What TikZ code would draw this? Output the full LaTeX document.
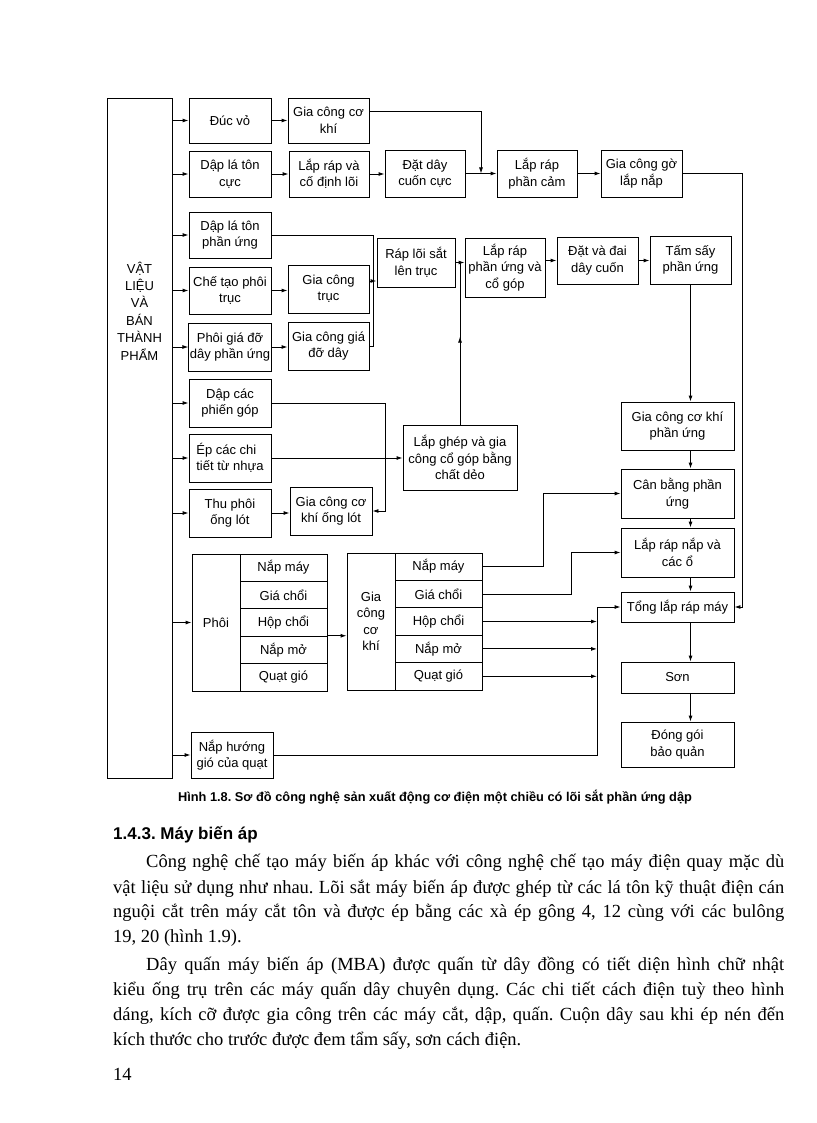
\documentclass[tikz,border=0pt]{standalone}
\usepackage{fontspec}
\setmainfont{Liberation Serif}
\setsansfont{Liberation Sans}
\usetikzlibrary{arrows.meta,calc}
\frenchspacing

\tikzset{
	procbox/.style={draw, line width=0.9pt, inner sep=1pt, align=center,
		font=\sffamily\fontsize{13}{16.5}\selectfont},
	ln/.style={line width=0.9pt},
	arr/.style={line width=0.9pt, -{Latex[length=6pt,width=4pt]}},
	bodyline/.style={anchor=base west, inner sep=0pt, font=\fontsize{18.5}{25}\selectfont},
}
% box from its corners: name, x1, y1, x2, y2, text
\newcommand{\procnode}[6]{
	\node [procbox, minimum width={(#4)-(#2)}, minimum height={(#5)-(#3)}]
	(#1) at ({((#2)+(#4))/2},{((#3)+(#5))/2}) {#6};
}

\begin{document}
\begin{tikzpicture}[x=1pt,y=-1pt]
\useasboundingbox (0,0) rectangle (816,1123);
\fill [white] (0,0) rectangle (816,1123);

\procnode{big}{107}{98}{172}{778}{}
\node [procbox, draw=none, font=\sffamily\fontsize{13}{17.4}\selectfont] (biglbl) at (139.5,311)
	{VẬT\\LIỆU\\VÀ\\BÁN\\THÀNH\\PHẨM};

% left column
\procnode{ducvo}{189}{98}{271}{143}{Đúc vỏ}
\procnode{dapcuc}{189}{151}{271}{197}{Dập lá tôn\\cực}
\procnode{dappu}{189}{212}{271}{258}{Dập lá tôn\\phần ứng}
\procnode{ctphoi}{189}{267}{271}{314}{Chế tạo phôi\\trục}
\procnode{phoigd}{189}{323}{271}{371}{Phôi giá đỡ\\dây phần ứng}
\procnode{dappg}{189}{379}{271}{427}{Dập các\\phiến góp}
\node [procbox, align=left, minimum width=82, minimum height=48] (epcac) at (230,458)
	{Ép các chi\\tiết từ nhựa};
\procnode{thuphoi}{189}{489}{271}{537}{Thu phôi\\ống lót}
\procnode{naphg}{191}{732}{273}{778}{Nắp hướng\\gió của quạt}

% second column
\procnode{gcck}{288}{98}{369}{143}{Gia công cơ\\khí}
\procnode{lrcd}{289}{151}{369}{197}{Lắp ráp và\\cố định lõi}
\procnode{gctruc}{288}{265}{369}{313}{Gia công\\trục}
\procnode{gcgiado}{288}{322}{369}{370}{Gia công giá\\đỡ dây}
\procnode{gcckol}{290}{487}{372}{535}{Gia công cơ\\khí ống lót}

% upper rows
\procnode{datday}{385}{150}{465}{197}{Đặt dây\\cuốn cực}
\procnode{lrpc}{497}{150}{577}{197}{Lắp ráp\\phần cảm}
\procnode{gcgo}{601}{150}{682}{197}{Gia công gờ\\lắp nắp}
\procnode{raploi}{377}{238}{455}{287}{Ráp lõi sắt\\lên trục}
\procnode{lrpu}{465}{238}{545}{297}{Lắp ráp\\phần ứng và\\cổ góp}
\procnode{datdai}{557}{237}{638}{284}{Đặt và đai\\dây cuốn}
\procnode{tamsay}{650}{236}{731}{284}{Tấm sấy\\phần ứng}
\procnode{lapghep}{403}{425}{517}{490}{Lắp ghép và gia\\công cổ góp bằng\\chất dẻo}

% right column
\procnode{gcckpu}{621}{402}{734}{450}{Gia công cơ khí\\phần ứng}
\procnode{canbang}{621}{469}{734}{518}{Cân bằng phần\\ứng}
\procnode{lrnap}{621}{528}{734}{577}{Lắp ráp nắp và\\các ổ}
\procnode{tong}{621}{592}{734}{622}{Tổng lắp ráp máy}
\procnode{son}{621}{662}{734}{693}{Sơn}
\procnode{donggoi}{621}{722}{734}{767}{Đóng gói\\bảo quản}

% blocks
\procnode{phoi}{192}{554}{240}{691}{Phôi}
\foreach \t [count=\i] in {Nắp máy,Giá chổi,Hộp chổi,Nắp mở,Quạt gió}{
	\procnode{p\i}{240}{554+(\i-1)*27.4}{327}{554+\i*27.4}{\t}
}
\procnode{gk}{347}{553}{395}{690}{Gia\\công\\cơ\\khí}
\foreach \t [count=\i] in {Nắp máy,Giá chổi,Hộp chổi,Nắp mở,Quạt gió}{
	\procnode{g\i}{395}{553+(\i-1)*27.4}{482}{553+\i*27.4}{\t}
}

% feeds from the materials box
\foreach \n in {ducvo,dapcuc,dappu,ctphoi,phoigd,dappg,epcac,thuphoi,phoi,naphg}
	\draw [arr] (big.east |- \n.west) -- (\n.west);

\draw [arr] (ducvo.east) -- (gcck.west |- ducvo.east);
\draw [arr] (dapcuc.east) -- (lrcd.west |- dapcuc.east);
\draw [arr] (lrcd.east) -- (datday.west |- lrcd.east);
\draw [arr] (datday.east) -- (lrpc.west);
\coordinate (j1) at ($(datday.east)!0.5!(lrpc.west)$);
\draw [arr] ([yshift=9pt]gcck.east) -| (j1);
\draw [arr] (lrpc.east) -- (gcgo.west);
\coordinate (rb) at (742,0);
\draw [arr] (gcgo.east) -| (rb |- tong.east) -- (tong.east);

\draw [arr] (ctphoi.east) -- (gctruc.west |- ctphoi.east);
\draw [arr] (phoigd.east) -- (gcgiado.west |- phoigd.east);
\coordinate (brk) at (373,281);
\draw [ln] (dappu.east) -| (brk);
\draw [ln] (gcgiado.east) -| (brk);
\draw [arr] (gctruc.east |- brk) -- (brk -| raploi.west);

\draw [arr] (raploi.east) -- (raploi.east -| lrpu.west);
\draw [ln] (lapghep.north) -- (lapghep.north |- raploi.east);
\draw [arr] (lapghep.north) -- ++(0,-88);
\draw [arr] (lrpu.east |- datdai.west) -- (datdai.west);
\draw [arr] (datdai.east) -- (tamsay.west |- datdai.east);

\draw [arr] (tamsay.south) -- (tamsay.south |- gcckpu.north);
\foreach \a/\b in {gcckpu/canbang,canbang/lrnap,lrnap/tong,tong/son,son/donggoi}
	\draw [arr] (\a.south -| tamsay.south) -- (\b.north -| tamsay.south);

\coordinate (pg) at (385,0);
\draw [arr] (dappg.east) -| (pg |- gcckol.east) -- (gcckol.east);
\draw [arr] (epcac.east) -- (lapghep.west |- epcac.east);
\draw [arr] (thuphoi.east) -- (gcckol.west |- thuphoi.east);

\draw [arr] (p4.north east) -- (gk.west |- p4.north east);
\coordinate (c1) at (543,0);
\coordinate (c2) at (571,0);
\coordinate (cb) at (597,0);
\draw [arr] (g1.east) -| (c1 |- canbang.west) -- (canbang.west);
\draw [arr] (g2.east) -| (c2 |- lrnap.west) -- (lrnap.west);
\foreach \i in {3,4,5}
	\draw [arr] (g\i.east) -- (cb |- g\i.east);
\draw [arr] (naphg.east) -| (cb |- tong.west) -- (tong.west);

% caption and text
\node [anchor=base, inner sep=0pt, font=\sffamily\bfseries\fontsize{12.8}{15}\selectfont] (caption)
	at (435,801) {Hình 1.8. Sơ đồ công nghệ sản xuất động cơ điện một chiều có lõi sắt phần ứng dập};
\node [anchor=base west, inner sep=0pt, font=\sffamily\bfseries\fontsize{17}{20}\selectfont] (heading)
	at (113,839) {1.4.3. Máy biến áp};
\node [bodyline] (l1) at (146,867) {\makebox[638pt][s]{Công nghệ chế tạo máy biến áp khác với công nghệ chế tạo máy điện quay mặc dù}};
\node [bodyline] (l2) at (113,893) {\makebox[671pt][s]{vật liệu sử dụng như nhau. Lõi sắt máy biến áp được ghép từ các lá tôn kỹ thuật điện cán}};
\node [bodyline] (l3) at (113,917) {\makebox[671pt][s]{nguội cắt trên máy cắt tôn và được ép bằng các xà ép gông 4, 12 cùng với các bulông}};
\node [bodyline] (l4) at (113,942) {19, 20 (hình 1.9).};
\node [bodyline] (l5) at (146,970) {\makebox[638pt][s]{Dây quấn máy biến áp (MBA) được quấn từ dây đồng có tiết diện hình chữ nhật}};
\node [bodyline] (l6) at (113,995) {\makebox[671pt][s]{kiểu ống trụ trên các máy quấn dây chuyên dụng. Các chi tiết cách điện tuỳ theo hình}};
\node [bodyline] (l7) at (113,1020) {\makebox[671pt][s]{dáng, kích cỡ được gia công trên các máy cắt, dập, quấn. Cuộn dây sau khi ép nén đến}};
\node [bodyline] (l8) at (113,1045) {kích thước cho trước được đem tẩm sấy, sơn cách điện.};
\node [bodyline] (pageno) at (113,1080) {14};
\end{tikzpicture}
\end{document}
